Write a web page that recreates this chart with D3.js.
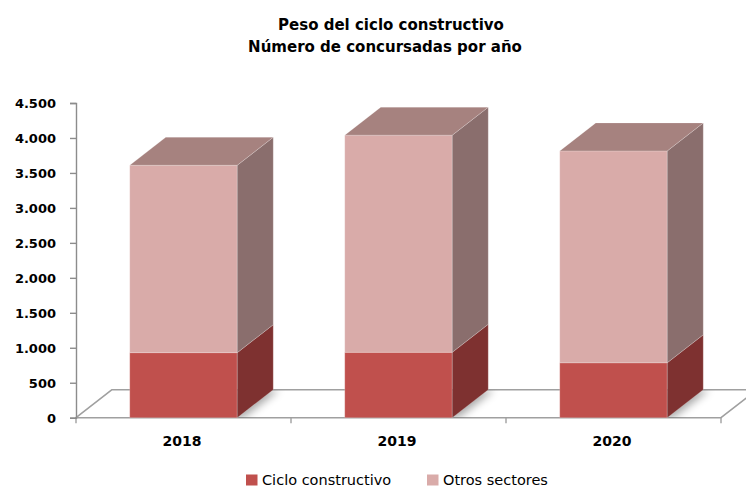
<!DOCTYPE html>
<html>
<head>
<meta charset="utf-8">
<script src="https://cdn.jsdelivr.net/npm/d3@7"></script>
<style>
  html, body { margin: 0; padding: 0; background: #fff; }
  svg { display: block; }
</style>
</head>
<body>
<svg id="chart" width="746" height="489"></svg>
<script>
// Data
const years = ["2018", "2019", "2020"];
const cicloConstructivo = [930, 935, 785];
const otrosSectores = [2680, 3105, 3030];
const seriesNames = ["Ciclo constructivo", "Otros sectores"];
const yTicks = [0, 500, 1000, 1500, 2000, 2500, 3000, 3500, 4000, 4500];
const titleLines = ["Peso del ciclo constructivo", "Número de concursadas por año"];

// Face colours per series: front, side, top
const faceColors = {
  "Ciclo constructivo": { front: "#C0504D", side: "#7E3130", top: "#9E4A47" },
  "Otros sectores":     { front: "#D9ABA9", side: "#8A6E6D", top: "#A6827F" }
};

const svg = d3.select("#chart");
const FONT = "'DejaVu Sans', sans-serif";

// Oblique depth of the 3D floor / columns
const depth = { dx: 36, dy: -28 };

const x = d3.scaleBand().domain(years).range([76, 721]).paddingInner(0.5).paddingOuter(0.25);
const y = d3.scaleLinear().domain([0, 4500]).range([417.7, 103]);

const rows = years.map((yr, i) => ({
  year: yr,
  "Ciclo constructivo": cicloConstructivo[i],
  "Otros sectores": otrosSectores[i]
}));
const stacked = d3.stack().keys(seriesNames)(rows);

// Title
svg.append("g").selectAll("text")
  .data(titleLines)
  .join("text")
  .attr("x", (d, i) => i === 0 ? 391 : 385)
  .attr("y", (d, i) => 30 + i * 21.7)
  .attr("text-anchor", "middle")
  .attr("font-family", FONT)
  .attr("font-weight", "bold")
  .attr("font-size", 15)
  .attr("fill", "#000")
  .text(d => d);

// Floor
const [x0, x1] = x.range();
const yBase = y(0);
const floorPts = [
  [x0, yBase], [x1, yBase],
  [x1 + depth.dx, yBase + depth.dy], [x0 + depth.dx, yBase + depth.dy]
];
const defs = svg.append("defs");
defs.append("clipPath").attr("id", "floorClip")
  .append("polygon").attr("points", floorPts.map(p => p.join(",")).join(" "));
defs.append("filter").attr("id", "soft").attr("x", "-20%").attr("y", "-50%").attr("width", "140%").attr("height", "200%")
  .append("feGaussianBlur").attr("stdDeviation", 4);

svg.append("polygon")
  .attr("points", floorPts.map(p => p.join(",")).join(" "))
  .attr("fill", "#fff")
  .attr("stroke", "#A0A0A0")
  .attr("stroke-width", 1.6)
  .attr("stroke-linejoin", "round");

// Soft shadows cast by the columns on the floor
svg.append("g").attr("clip-path", "url(#floorClip)")
  .selectAll("polygon")
  .data(years)
  .join("polygon")
  .attr("points", d => {
    const l = x(d) + 4, r = x(d) + x.bandwidth() + 6;
    return [[l, yBase], [r, yBase], [r + depth.dx, yBase + depth.dy], [l + depth.dx, yBase + depth.dy]]
      .map(p => p.join(",")).join(" ");
  })
  .attr("fill", "#000")
  .attr("opacity", 0.35)
  .attr("filter", "url(#soft)");

// Category boundary ticks below the floor
const boundaries = d3.range(years.length + 1).map(i => x0 + i * x.step());
svg.append("g").selectAll("line")
  .data(boundaries)
  .join("line")
  .attr("x1", d => d).attr("x2", d => d)
  .attr("y1", yBase).attr("y2", yBase + 5.5)
  .attr("stroke", "#A0A0A0")
  .attr("stroke-width", 1.4);

// Value axis
const locale = d3.formatLocale({ decimal: ",", thousands: ".", grouping: [3], currency: ["", " €"] });
const fmt = locale.format(",");
const yAxis = svg.append("g")
  .attr("transform", `translate(${x0},0)`)
  .call(d3.axisLeft(y).tickValues(yTicks).tickFormat(fmt).tickSize(6).tickSizeOuter(6).tickPadding(14));
yAxis.select(".domain").attr("stroke", "#8C8C8C").attr("stroke-width", 1.4);
yAxis.selectAll(".tick line").attr("stroke", "#8C8C8C").attr("stroke-width", 1.4);
yAxis.selectAll(".tick text")
  .attr("font-family", FONT)
  .attr("font-weight", "bold")
  .attr("font-size", 13)
  .attr("fill", "#000")
  .attr("dy", "0.37em");

// Columns
const bars = svg.append("g");
stacked.forEach((layer, li) => {
  const c = faceColors[layer.key];
  const isTop = li === stacked.length - 1;
  layer.forEach((seg, i) => {
    const xl = x(years[i]);
    const xr = xl + x.bandwidth();
    const yt = y(seg[1]);
    const yb = y(seg[0]);
    const g = bars.append("g");
    // front face
    g.append("rect")
      .attr("x", xl).attr("y", yt)
      .attr("width", xr - xl).attr("height", yb - yt)
      .attr("fill", c.front);
    // side face
    g.append("polygon")
      .attr("points", [[xr, yb], [xr, yt], [xr + depth.dx, yt + depth.dy], [xr + depth.dx, yb + depth.dy]]
        .map(p => p.join(",")).join(" "))
      .attr("fill", c.side);
    if (isTop) {
      g.append("polygon")
        .attr("points", [[xl, yt], [xr, yt], [xr + depth.dx, yt + depth.dy], [xl + depth.dx, yt + depth.dy]]
          .map(p => p.join(",")).join(" "))
        .attr("fill", c.top);
    }
    g.selectAll("*")
      .attr("stroke", "#fff").attr("stroke-opacity", 0.25).attr("stroke-width", 0.8)
      .attr("stroke-linejoin", "round");
  });
});

// Category labels
svg.append("g").selectAll("text")
  .data(years)
  .join("text")
  .attr("x", d => x(d) + x.bandwidth() / 2 - 1.5)
  .attr("y", 446)
  .attr("text-anchor", "middle")
  .attr("font-family", FONT)
  .attr("font-weight", "bold")
  .attr("font-size", 14)
  .attr("fill", "#000")
  .text(d => d);

// Legend
const legendX = [246, 427];
const legend = svg.append("g").selectAll("g")
  .data(seriesNames)
  .join("g")
  .attr("transform", (d, i) => `translate(${legendX[i]},474.5)`);
legend.append("rect")
  .attr("width", 11.5).attr("height", 11)
  .attr("fill", d => faceColors[d].front);
legend.append("text")
  .attr("x", 16)
  .attr("y", 10.8)
  .attr("font-family", FONT)
  .attr("font-size", 14.5)
  .attr("fill", "#000")
  .text(d => d);
</script>
</body>
</html>
